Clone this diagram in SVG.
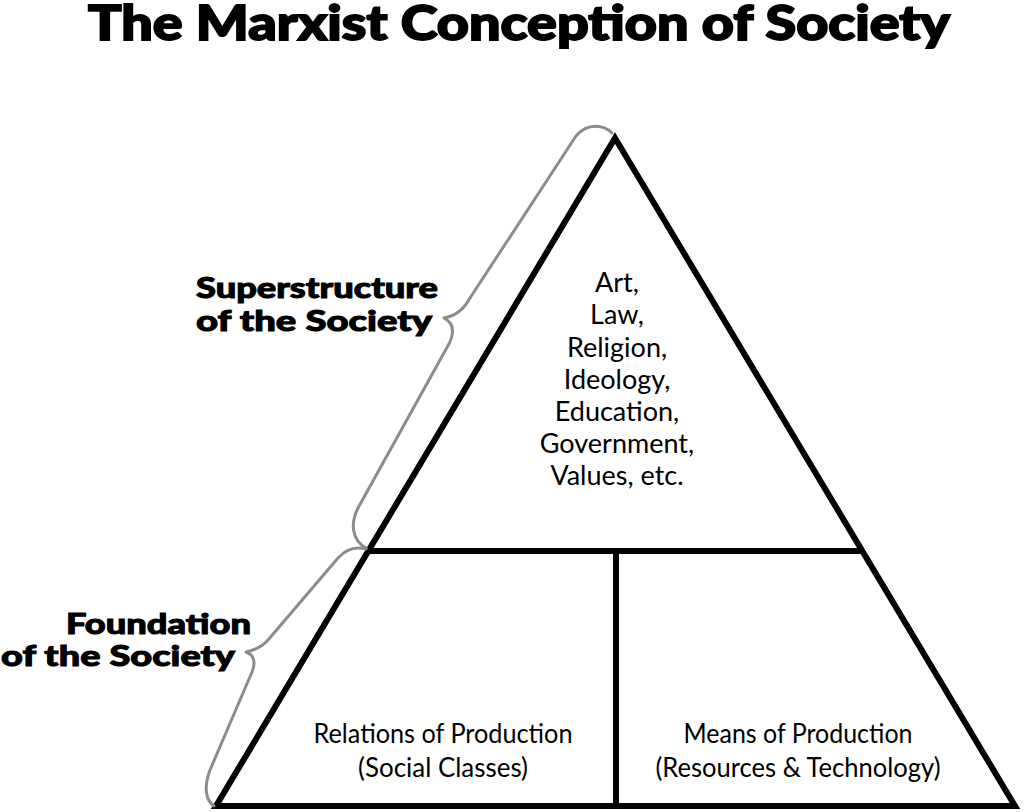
<svg xmlns="http://www.w3.org/2000/svg" width="1024" height="812" viewBox="0 0 1024 812">
<style>
.title{font-family:"Lato Black",Lato,"Open Sans","Liberation Sans",sans-serif;font-weight:900;font-size:47px;fill:#000;stroke:#000;stroke-width:1.8}
.lbl{font-family:"Lato Black",Lato,"Open Sans","Liberation Sans",sans-serif;font-weight:900;font-size:29px;fill:#000;stroke:#000;stroke-width:1}
.txt{font-family:Lato,"Liberation Sans",sans-serif;font-size:27px;fill:#000;text-anchor:middle}
.edge{fill:none;stroke:#000;stroke-width:6;stroke-linejoin:miter}
.brace{fill:none;stroke:#8c8c8c;stroke-width:3;stroke-linecap:round;stroke-linejoin:round}
</style>
<rect width="1024" height="812" fill="#fff"/>
<text class="title" x="88" y="40" textLength="862" lengthAdjust="spacingAndGlyphs">The Marxist Conception of Society</text>
<g id="pyramid">
<polygon class="edge" points="615,138 216,806 1015,806"/>
<line class="edge" x1="368" y1="551" x2="862" y2="551"/>
<line class="edge" x1="616" y1="551" x2="616" y2="806"/>
</g>
<g id="superstructure">
<text class="txt" x="617" y="292">Art,</text>
<text class="txt" x="617" y="324">Law,</text>
<text class="txt" x="617" y="357">Religion,</text>
<text class="txt" x="617" y="389">Ideology,</text>
<text class="txt" x="617" y="421">Education,</text>
<text class="txt" x="617" y="453">Government,</text>
<text class="txt" x="617" y="485">Values, etc.</text>
</g>
<g id="relations">
<text class="txt" x="443" y="743" textLength="259" lengthAdjust="spacingAndGlyphs">Relations of Production</text>
<text class="txt" x="443" y="777" textLength="170" lengthAdjust="spacingAndGlyphs">(Social Classes)</text>
</g>
<g id="means">
<text class="txt" x="798" y="743" textLength="229" lengthAdjust="spacingAndGlyphs">Means of Production</text>
<text class="txt" x="798" y="777" textLength="285" lengthAdjust="spacingAndGlyphs">(Resources &amp; Technology)</text>
</g>
<g id="braces">
<path class="brace" d="M612,133 C604,125 588,122 576,136 L470,298 C464,309 456,316 444,318 C452,322 455,330 450,342 L358,508 C350,524 352,540 366,548"/>
<path class="brace" d="M366,549 C355,546 345,550 338,558 L268,640 C262,647 255,650 246,652 C254,655 256,662 252,672 L210,770 C204,786 205,800 214,806"/>
</g>
<g id="label-super">
<text class="lbl" x="196" y="298" textLength="242" lengthAdjust="spacingAndGlyphs">Superstructure</text>
<text class="lbl" x="196" y="331" textLength="236" lengthAdjust="spacingAndGlyphs">of the Society</text>
</g>
<g id="label-foundation">
<text class="lbl" x="66" y="634" textLength="185" lengthAdjust="spacingAndGlyphs">Foundation</text>
<text class="lbl" x="1" y="666" textLength="234" lengthAdjust="spacingAndGlyphs">of the Society</text>
</g>
</svg>
